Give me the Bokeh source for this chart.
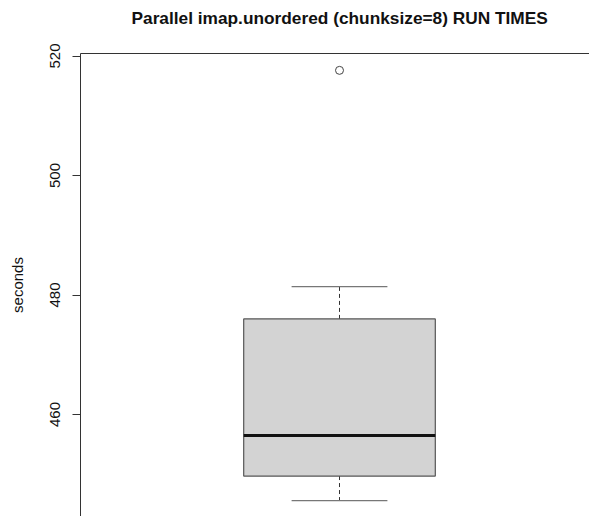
from bokeh.plotting import figure
from bokeh.models import Range1d, LinearAxis, FixedTicker, Title, ColumnDataSource
from bokeh.embed import file_html
from bokeh.resources import INLINE

# ---- data ----
positions = [1.0]
lower_whisker = [445.6]
q1 = [449.7]
median = [456.5]
q3 = [476.0]
upper_whisker = [481.4]
outlier_pos = [1.0]
outlier_vals = [517.6]
y_ticks = [460, 480, 500, 520]
title_text = "Parallel imap.unordered (chunksize=8) RUN TIMES"
y_label = "seconds"

BOX_W = 0.8
CAP_W = 0.4
FONT = "Liberation Sans"

src = ColumnDataSource(dict(
    x=positions,
    x0=[x - BOX_W / 2 for x in positions],
    x1=[x + BOX_W / 2 for x in positions],
    c0=[x - CAP_W / 2 for x in positions],
    c1=[x + CAP_W / 2 for x in positions],
    lw=lower_whisker, q1=q1, med=median, q3=q3, uw=upper_whisker,
))

p = figure(width=589, height=516, output_backend="svg", toolbar_location=None,
           x_range=Range1d(-0.0814, 2.0438), y_range=Range1d(442.93, 520.42),
           x_axis_location=None, y_axis_location="left",
           min_border_left=80, min_border_right=0, min_border_top=53, min_border_bottom=0,
           background_fill_color="white", border_fill_color="white")
p.outline_line_color = None
p.grid.visible = False

# left axis styling
ya = p.yaxis[0]
ya.ticker = FixedTicker(ticks=y_ticks)
ya.minor_tick_line_color = None
ya.major_tick_out = 8
ya.major_tick_in = 0
ya.major_tick_line_color = "#333333"
ya.axis_line_color = "#333333"
ya.major_label_orientation = "vertical"
ya.major_label_text_font = FONT
ya.major_label_text_font_size = "15px"
ya.major_label_text_color = "#111111"
ya.major_label_standoff = 12
ya.axis_label = y_label
ya.axis_label_text_font = FONT
ya.axis_label_text_font_size = "15px"
ya.axis_label_text_font_style = "normal"
ya.axis_label_text_color = "#111111"
ya.axis_label_standoff = 22

# top frame line
top = LinearAxis(ticker=FixedTicker(ticks=[]), major_tick_out=0, major_tick_in=0,
                 minor_tick_out=0, minor_tick_in=0, major_label_standoff=0,
                 major_tick_line_color=None, minor_tick_line_color=None,
                 axis_line_color="#333333", major_label_text_font_size="0px")
p.add_layout(top, "above")

# blank spacer between frame and title
p.add_layout(Title(text=" ", text_font=FONT, text_font_size="12px", standoff=5), "above")

# title
p.add_layout(Title(text=title_text, align="left", offset=51, text_font=FONT,
                   text_font_size="17.3px", text_font_style="bold",
                   text_color="#111111", vertical_align="bottom", standoff=10), "above")

# whiskers
p.segment(x0="x", y0="q3", x1="x", y1="uw", source=src, line_color="#333333",
          line_width=1, line_dash="4 3")
p.segment(x0="x", y0="q1", x1="x", y1="lw", source=src, line_color="#333333",
          line_width=1, line_dash="4 3")
# caps
p.segment(x0="c0", y0="uw", x1="c1", y1="uw", source=src, line_color="#777777", line_width=1.2)
p.segment(x0="c0", y0="lw", x1="c1", y1="lw", source=src, line_color="#777777", line_width=1.2)
# box
p.quad(left="x0", right="x1", bottom="q1", top="q3", source=src,
       fill_color="#D3D3D3", line_color="#555555", line_width=1.2)
# median
p.segment(x0="x0", y0="med", x1="x1", y1="med", source=src, line_color="#111111", line_width=3)
# outliers
p.scatter(x=outlier_pos, y=outlier_vals, marker="circle", size=8, fill_color=None,
          line_color="#444444", line_width=1)

open("out.html", "w").write(file_html(p, INLINE))
